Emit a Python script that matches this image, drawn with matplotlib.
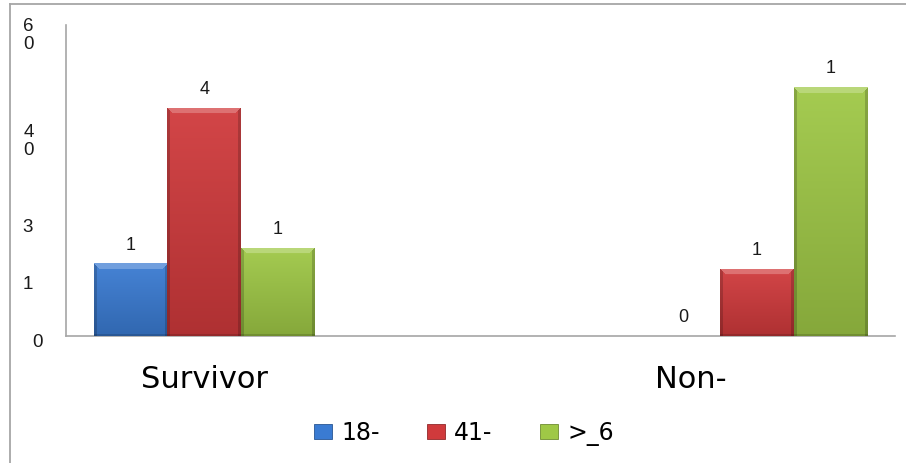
import numpy as np
import matplotlib
matplotlib.use("Agg")
import matplotlib.pyplot as plt
from matplotlib.lines import Line2D
from matplotlib.colors import to_rgb
from matplotlib.transforms import blended_transform_factory

# ---- data ----
categories = ["Survivor", "Non-"]
series_names = ["18-", "41-", ">_6"]
series_values = {
    "18-": [14, 0],
    "41-": [44, 13],
    ">_6": [17, 48],
}
# data-label text as printed above each bar
series_labels = {
    "18-": ["1", "0"],
    "41-": ["4", "1"],
    ">_6": ["1", "1"],
}
ytick_values = [-1.2, 10, 21, 37.5, 58]
ytick_labels = ["0", "1", "3", "4\n0", "6\n0"]

# ---- style ----
colors = {"18-": "#3a7bd2", "41-": "#d03a3c", ">_6": "#9fc846"}
big_font = "DejaVu Sans"
small_font = "Liberation Sans"
W, H, DPI = 906, 463, 100
bar_w = 0.4 / 3
ytick_right_px = [43, 33, 33, 34, 34]
cat_label_shift = [0.0, -0.12]

fig = plt.figure(figsize=(W / DPI, H / DPI), dpi=DPI)
fig.patch.set_facecolor("white")
ax = fig.add_axes([66 / W, 1 - 336 / H, (895 - 66) / W, (336 - 25) / H])
ax.set_xlim(-0.25, 1.25)
ax.set_ylim(0, 60)
ax.set_facecolor("white")
for s in ("top", "right"):
    ax.spines[s].set_visible(False)
for s in ("left", "bottom"):
    ax.spines[s].set_color("#a6a6a6")
    ax.spines[s].set_linewidth(1.2)
ax.set_xticks([])
ax.set_yticks([])

x = np.arange(len(categories))
fig.canvas.draw()


def shade(rgb, f):
    rgb = np.asarray(rgb)
    if f >= 0:
        return rgb + (1 - rgb) * f
    return rgb * (1 + f)


def bevel_image(color, wpx, hpx):
    base = np.array(to_rgb(color))
    hpx = max(int(round(hpx)), 2)
    wpx = max(int(round(wpx)), 2)
    t = np.linspace(0, 1, hpx)[:, None]
    img = np.empty((hpx, wpx, 3))
    top = shade(base, 0.06)
    bot = shade(base, -0.16)
    img[:] = (top[None, None, :] * (1 - t[..., None]) + bot[None, None, :] * t[..., None])
    cols = np.arange(wpx)[None, :]
    rows = np.arange(hpx)[:, None]
    # darker side edges
    edge = (cols < 3) | (cols >= wpx - 3)
    img[np.broadcast_to(edge, (hpx, wpx))] *= 0.82
    # lighter bevel at the top
    band = (rows < 6) & (cols >= rows) & (cols < wpx - rows)
    img[band] = shade(base, 0.28)
    img[-2:, :, :] *= 0.85
    return np.clip(img, 0, 1)


for i, name in enumerate(series_names):
    vals = series_values[name]
    bars = ax.bar(x + (i - 1) * bar_w, vals, width=bar_w, color=colors[name],
                  edgecolor="none", zorder=2)
    for b, v in zip(bars, vals):
        if v <= 0:
            continue
        bb = b.get_window_extent()
        img = bevel_image(colors[name], bb.width, bb.height)
        im = ax.imshow(img, extent=(b.get_x(), b.get_x() + b.get_width(), 0, v),
                       aspect="auto", zorder=3, interpolation="bilinear")
        im.set_clip_path(b)
    ax.bar_label(bars, labels=series_labels[name], padding=7,
                 fontsize=13, family=small_font, color="#1a1a1a")

ax.set_xlim(-0.25, 1.25)
ax.set_ylim(0, 60)

# y-axis labels
ytrans = blended_transform_factory(fig.transFigure, ax.transData)
for v, lab, px in zip(ytick_values, ytick_labels, ytick_right_px):
    ax.text(px / W, v, lab, transform=ytrans,
            ha="right", va="center", fontsize=13.5, family=small_font, color="#1a1a1a",
            linespacing=1.05, clip_on=False)

# category labels
xtrans = blended_transform_factory(ax.transData, fig.transFigure)
for xi, lab, sh in zip(x, categories, cat_label_shift):
    ax.text(xi + sh, 1 - 380 / H, lab, transform=xtrans,
            ha="center", va="center", fontsize=22, family=big_font, color="black",
            clip_on=False)

# legend
handles = [plt.Rectangle((0, 0), 1, 1, facecolor=colors[n],
                         edgecolor=shade(to_rgb(colors[n]), -0.3), linewidth=0.6)
           for n in series_names]
fig.legend(handles, series_names, loc="center", bbox_to_anchor=(464 / W, 1 - 433 / H),
           ncol=3, frameon=False, prop={"family": big_font, "size": 17},
           handlelength=0.75, handleheight=0.6, handletextpad=0.4, columnspacing=2.0)

# outer frame
fig.add_artist(Line2D([10 / W, 1], [1 - 4 / H, 1 - 4 / H], transform=fig.transFigure,
                      color="#a6a6a6", linewidth=1.3))
fig.add_artist(Line2D([10 / W, 10 / W], [0, 1 - 4 / H], transform=fig.transFigure,
                      color="#a6a6a6", linewidth=1.3))

fig.savefig("out.png", dpi=DPI, facecolor="white")
